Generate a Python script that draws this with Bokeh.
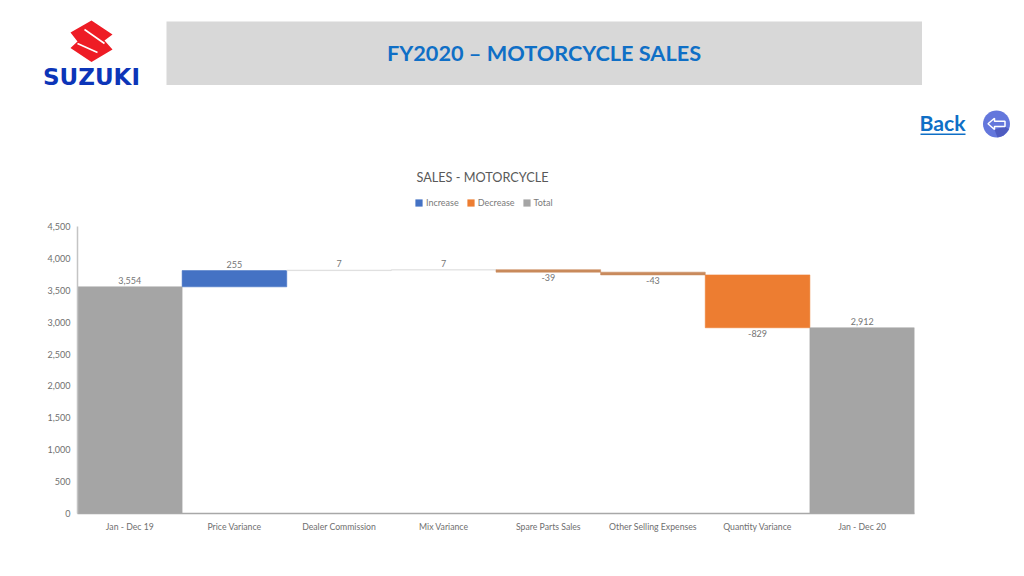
import math
from bokeh.plotting import figure
from bokeh.models import (Range1d, FactorRange, Legend, LegendItem,
                          ColumnDataSource, NumeralTickFormatter, FixedTicker)
from bokeh.core.properties import value
from bokeh.embed import file_html
from bokeh.resources import INLINE

categories = ["Jan - Dec 19", "Price Variance", "Dealer Commission", "Mix Variance",
              "Spare Parts Sales", "Other Selling Expenses", "Quantity Variance", "Jan - Dec 20"]
bottoms = [0, 3554, 3809, 3816, 3784, 3741, 2912, 0]
tops = [3554, 3809, 3816, 3823, 3823, 3784, 3741, 2912]
values = [3554, 255, 7, 7, -39, -43, -829, 2912]
kinds = ["Total", "Increase", "Increase", "Increase", "Decrease", "Decrease", "Decrease", "Total"]
bar_colors = ["#a5a5a5", "#4472c4", "#dadada", "#dadada", "#c98a5c", "#c98a5c", "#ed7d31", "#a5a5a5"]
y_ticks = [0, 500, 1000, 1500, 2000, 2500, 3000, 3500, 4000, 4500]
legend_names = ["Increase", "Decrease", "Total"]

COL = {"Increase": "#4472c4", "Decrease": "#ed7d31", "Total": "#a5a5a5"}
FONT = "Lato"

W, H, HEAD = 1020, 572, 220
FL, FR, FT, FB = 77, 914, 226, 513

# ---- page header: a figure whose data space is the page's pixels
h = figure(width=W, height=HEAD, output_backend="svg", toolbar_location=None,
           x_range=Range1d(0, W), y_range=Range1d(HEAD, 0),
           min_border=0, outline_line_color=None, x_axis_location=None, y_axis_location=None)
h.grid.visible = False

def txt(x, y, text, size, color, bold=False, font=FONT):
    h.text(x=[x], y=[y], text=[text], text_font=value(font), text_font_size=f"{size}px",
           text_color=color, text_align="center", text_baseline="middle",
           text_font_style="bold" if bold else "normal")

def poly(points, color, line=None, lw=1):
    h.patch(x=[a for a, _ in points], y=[b for _, b in points], fill_color=color, line_color=line, line_width=lw)

h.quad(left=[166], right=[921.5], top=[21], bottom=[84.5], fill_color="#d8d8d8", line_color=None)
txt(543.5, 52.5, "FY2020 \u2013 MOTORCYCLE SALES", 21.7, "#0f6fc6", bold=True)

txt(942, 122.5, "Back", 21.2, "#0f6fc6", bold=True)
h.quad(left=[920], right=[965], top=[133], bottom=[134.5], fill_color="#0f6fc6", line_color=None)
circle = [(996 + 13.5 * math.cos(a * math.pi / 18), 123.5 + 13.5 * math.sin(a * math.pi / 18)) for a in range(36)]
poly(circle, "#6477dc")
poly([(994, 129), (1004.7, 126), (1008.5, 129), (1003, 135), (997, 137)], "#4f5cc0")
poly([(987.5, 123.3), (994, 117.7), (994, 120.7), (1004.5, 120.7), (1004.5, 126), (994, 126), (994, 129)],
     "#6477dc", line="#ffffff", lw=1.5)

# logo
poly([(91, 20), (112, 34), (104, 40), (112, 49), (91, 61.5), (70, 47.5), (77, 41), (70, 32)], "#ee1c25")
h.line(x=[84, 104], y=[29, 43], line_color="#ffffff", line_width=1.6)
h.line(x=[77, 97], y=[43, 52], line_color="#ffffff", line_width=1.6)
txt(91, 76, "SUZUKI", 23, "#0c35b8", bold=True, font="DejaVu Sans")

# chart title
txt(482, 176, "SALES - MOTORCYCLE", 12.7, "#595959", bold=False)

# legend swatches live on the header figure, where annotations are not clipped away
swatches = {k: h.quad(left=[-20], right=[-10], top=[-20], bottom=[-10], fill_color=COL[k], line_color=None)
            for k in legend_names}
legend = Legend(items=[LegendItem(label=k, renderers=[swatches[k]]) for k in legend_names],
                orientation="horizontal", location=(414, 12), background_fill_alpha=0, border_line_color=None,
                label_text_font=FONT, label_text_font_size="9px", label_text_color="#7a7a7a",
                glyph_width=9, glyph_height=9, spacing=7, label_standoff=3, padding=0, margin=0)
h.add_layout(legend)

# ---- chart
p = figure(width=W, height=H - HEAD, output_backend="svg", toolbar_location=None,
           x_range=FactorRange(factors=categories, range_padding=0, factor_padding=0),
           y_range=Range1d(0, 4500),
           min_border_left=FL, min_border_right=W - FR,
           min_border_top=FT - HEAD, min_border_bottom=H - FB,
           background_fill_color="white", outline_line_color=None)
p.grid.visible = False

for kind in legend_names:
    idx = [i for i, k in enumerate(kinds) if k == kind]
    src = ColumnDataSource(dict(x=[categories[i] for i in idx], top=[tops[i] for i in idx],
                                bottom=[bottoms[i] for i in idx], color=[bar_colors[i] for i in idx]))
    p.vbar(x="x", top="top", bottom="bottom", width=1.0, source=src,
           fill_color="color", line_color="color", line_alpha=0.55, line_width=1)

above = [i for i, v in enumerate(values) if v >= 0]
below = [i for i, v in enumerate(values) if v < 0]
fmt = lambda v: f"{v:,}"
p.text(x=[categories[i] for i in above], y=[tops[i] for i in above], text=[fmt(values[i]) for i in above],
       text_font=value(FONT), text_font_size="9px", text_color="#757575", text_align="center",
       text_baseline="bottom", y_offset=-3)
p.text(x=[categories[i] for i in below], y=[bottoms[i] for i in below], text=[fmt(values[i]) for i in below],
       text_font=value(FONT), text_font_size="9px", text_color="#757575", text_align="center",
       text_baseline="top", y_offset=2)

p.xaxis.major_tick_line_color = None
p.xaxis.minor_tick_line_color = None
p.xaxis.axis_line_color = "#a8a8a8"
p.xaxis.axis_line_width = 1.5
p.xaxis.major_label_text_font = FONT
p.xaxis.major_label_text_font_size = "8.7px"
p.xaxis.major_label_text_color = "#6f6f6f"
p.xaxis.major_label_standoff = 1
p.yaxis.ticker = FixedTicker(ticks=y_ticks)
p.yaxis.formatter = NumeralTickFormatter(format="0,0")
p.yaxis.major_tick_line_color = None
p.yaxis.minor_tick_line_color = None
p.yaxis.axis_line_color = "#c4c4c4"
p.yaxis.axis_line_width = 1.5
p.yaxis.major_label_text_font = FONT
p.yaxis.major_label_text_font_size = "9px"
p.yaxis.major_label_text_color = "#6f6f6f"
p.yaxis.major_label_standoff = 1

open("out.html", "w").write(file_html([h, p], INLINE))
